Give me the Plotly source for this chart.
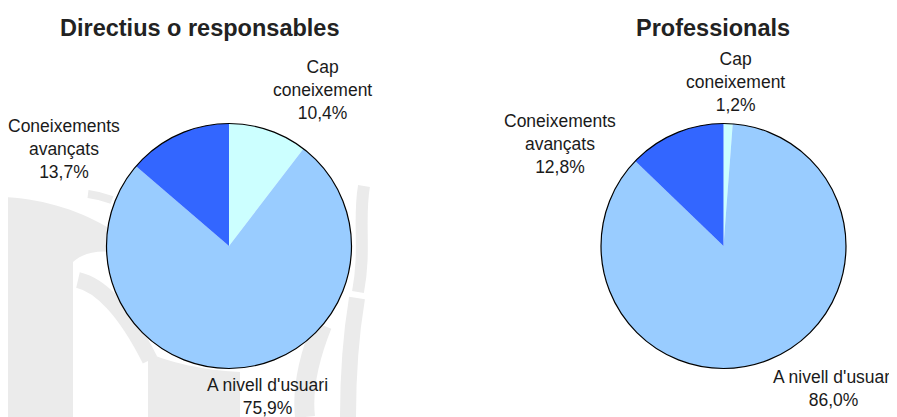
"""
Two pie charts: level of IT knowledge, managers vs professionals.
"""
import plotly.graph_objects as go

# Data
categories = ["Cap<br>coneixement", "A nivell d'usuari", "Coneixements<br>avançats"]
directius_pct = [10.4, 75.9, 13.7]
professionals_pct = [1.2, 86.0, 12.8]
group_titles = ["Directius o responsables", "Professionals"]

slice_colors = ["#CCFFFF", "#99CCFF", "#3366FF"]
FONT = "Liberation Sans, Arial, sans-serif"

# the page body has an 8px margin, so the figure is drawn 8px in from the window edge
WIN_W, WIN_H = 897, 417
OFF = 8
W, H = WIN_W - OFF, WIN_H - OFF


def fmt_pct(v):
    return f"{v:.1f}".replace(".", ",") + "%"


def px_domain(cx, cy, r):
    # window pixel centre/radius -> paper domain
    return {"x": [(cx - r - OFF) / W, (cx + r - OFF) / W],
            "y": [1 - (cy + r - OFF) / H, 1 - (cy - r - OFF) / H]}


pies = [
    {"values": directius_pct, "centre": (229, 246), "r": 122.5,
     "title_x": 200, "label_pos": [(322, 90), (267, 396), (64, 149)]},
    {"values": professionals_pct, "centre": (723.5, 246), "r": 122.5,
     "title_x": 713, "label_pos": [(735, 82), (833, 388), (560, 144)]},
]

fig = go.Figure()

# dummy trace so the pixel-coordinate axes exist
fig.add_trace(go.Scatter(x=[OFF], y=[OFF], mode="markers", marker_opacity=0,
                         hoverinfo="skip", showlegend=False))

# faint watermark in the background (rough sketch), window pixel coords
wm = "#ebebeb"
shapes = [
    # left column + curved top
    dict(type="path", path="M0,197 C40,198 80,210 112,230 L112,252 "
                           "C95,250 82,254 73,262 L73,417 L0,417 Z",
         fillcolor=wm, line_width=0),
    # small tip above it
    dict(type="path", path="M88,194 C96,195 104,197 112,200",
         line=dict(color=wm, width=8)),
    # curved band going under the pie
    dict(type="path", path="M78,280 C100,285 125,310 150,360",
         line=dict(color=wm, width=16)),
    # block under the pie
    dict(type="path", path="M148,353 C170,362 200,370 240,372 L240,417 L148,417 Z",
         fillcolor=wm, line_width=0),
    # strokes to the right of the pie
    dict(type="path", path="M364,186 C358,220 366,250 358,292",
         line=dict(color=wm, width=12)),
    dict(type="path", path="M357,298 C350,340 348,380 348,417",
         line=dict(color=wm, width=16)),
    dict(type="path", path="M322,325 C308,360 302,390 305,417",
         line=dict(color=wm, width=20)),
]
for s in shapes:
    s.update(xref="x", yref="y", layer="below")

annotations = []
for i, p in enumerate(pies):
    dom = px_domain(p["centre"][0], p["centre"][1], p["r"])
    fig.add_trace(go.Pie(
        labels=[c.replace("<br>", " ") for c in categories],
        values=p["values"],
        sort=False,
        direction="clockwise",
        rotation=0,
        marker=dict(colors=slice_colors, line=dict(width=0)),
        textinfo="none",
        hoverinfo="label+percent",
        domain=dom,
        showlegend=False,
    ))
    # outer outline only
    fig.add_trace(go.Pie(
        values=[1],
        marker=dict(colors=["rgba(0,0,0,0)"], line=dict(color="black", width=1.2)),
        textinfo="none",
        hoverinfo="skip",
        domain=dom,
        showlegend=False,
    ))
    annotations.append(dict(
        text=f"<b>{group_titles[i]}</b>", x=p["title_x"], y=28,
        xref="x", yref="y", xanchor="center", yanchor="middle", showarrow=False,
        font=dict(family=FONT, size=23.5, color="#222222"),
    ))
    for cat, val, (lx, ly) in zip(categories, p["values"], p["label_pos"]):
        annotations.append(dict(
            text=f"{cat}<br>{fmt_pct(val)}", x=lx, y=ly,
            xref="x", yref="y", xanchor="center", yanchor="middle",
            showarrow=False, align="center",
            font=dict(family=FONT, size=17.5, color="#1a1a1a"),
        ))

fig.update_layout(
    width=W,
    height=H,
    margin=dict(l=0, r=0, t=0, b=0),
    paper_bgcolor="white",
    plot_bgcolor="white",
    xaxis=dict(range=[OFF, WIN_W], visible=False, fixedrange=True),
    yaxis=dict(range=[WIN_H, OFF], visible=False, fixedrange=True),
    shapes=shapes,
    annotations=annotations,
)

fig.write_html("out.html")
